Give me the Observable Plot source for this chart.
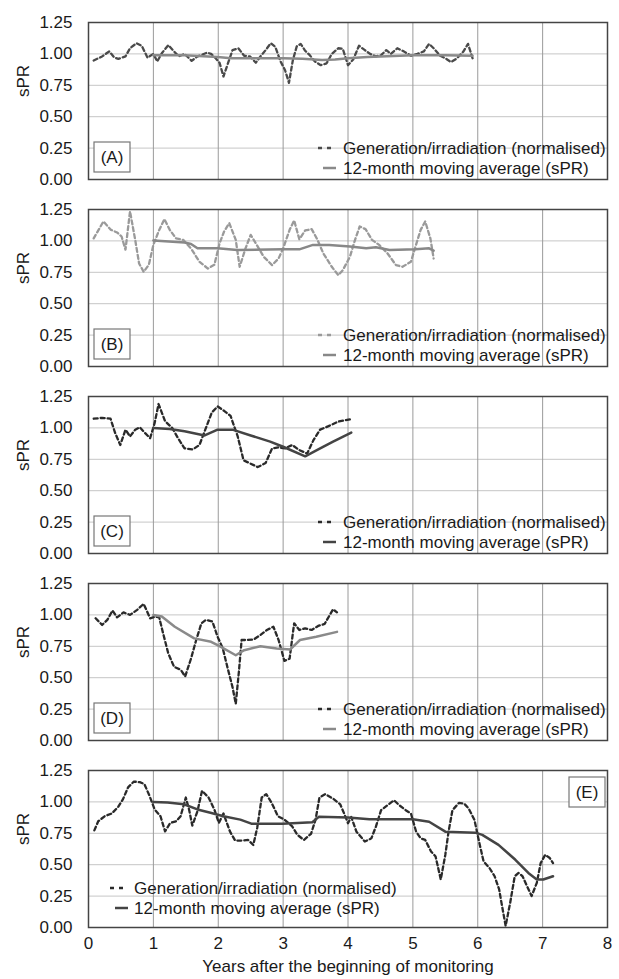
<!DOCTYPE html>
<html><head><meta charset="utf-8">
<script src="https://cdn.jsdelivr.net/npm/d3@7"></script>
<script src="https://cdn.jsdelivr.net/npm/@observablehq/plot@0.6"></script>
<style>
body{margin:0;background:#fff;}
#chart{width:619px;}
#chart svg{display:block;}
</style></head><body><div id="chart"></div>
<script>
const xTicks = [0,1,2,3,4,5,6,7,8];
const yTicks = [0,0.25,0.5,0.75,1,1.25];
const gridX = [1,2,3,4,5,6,7];
const gridY = [0.25,0.5,0.75,1];
const legendLabels = ["Generation/irradiation (normalised)","12-month moving average (sPR)"];
const panelLabels = ["(A)","(B)","(C)","(D)","(E)"];
const yTitle = "sPR";
const xTitle = "Years after the beginning of monitoring";

// Panel A
const aGenT = [0.08,0.21,0.32,0.40,0.46,0.57,0.64,0.74,0.82,0.91,1.0,1.06,1.13,1.23,1.30,1.39,1.48,1.59,1.68,1.83,1.89,1.96,2.02,2.08,2.14,2.22,2.31,2.40,2.49,2.58,2.65,2.73,2.81,2.88,2.96,3.03,3.09,3.15,3.21,3.27,3.34,3.41,3.49,3.58,3.67,3.75,3.85,3.92,4.0,4.08,4.17,4.26,4.34,4.43,4.51,4.59,4.66,4.76,4.86,4.97,5.07,5.17,5.25,5.32,5.42,5.50,5.59,5.68,5.78,5.85,5.92];
const aGenV = [0.947,0.98,1.02,0.97,0.96,0.98,1.045,1.085,1.065,0.97,1.0,0.94,1.005,1.07,1.03,0.98,1.0,0.945,0.98,1.01,1.0,0.965,0.93,0.82,0.91,1.03,1.045,0.985,0.98,0.93,0.98,1.03,1.085,1.055,0.94,0.87,0.77,0.95,1.06,1.08,1.025,0.99,0.94,0.91,0.925,1.0,1.045,1.04,0.91,0.955,1.065,1.03,1.0,0.98,0.99,1.03,1.0,1.045,1.02,0.985,1.0,1.02,1.08,1.045,0.985,0.965,0.935,0.965,1.02,1.08,0.965];
const aMaT = [1.0,1.48,1.99,2.2,3.0,3.3,3.6,3.8,4.0,4.3,5.0,5.5,5.92];
const aMaV = [0.99,0.99,0.975,0.965,0.965,0.962,0.952,0.955,0.965,0.975,0.99,0.99,0.985];

// Panel B
const bGenT = [0.08,0.23,0.34,0.44,0.51,0.57,0.64,0.72,0.78,0.85,0.93,1.0,1.08,1.17,1.25,1.35,1.46,1.58,1.71,1.84,1.94,2.02,2.09,2.17,2.27,2.33,2.42,2.5,2.58,2.7,2.83,2.93,3.0,3.1,3.17,3.25,3.34,3.44,3.53,3.62,3.75,3.85,3.92,4.03,4.1,4.18,4.27,4.37,4.48,4.61,4.74,4.84,4.97,5.04,5.12,5.19,5.27,5.32];
const bGenV = [1.02,1.155,1.09,1.067,1.035,0.93,1.235,1.008,0.82,0.754,0.81,0.968,1.075,1.174,1.09,1.02,1.008,0.94,0.834,0.78,0.81,0.98,1.075,1.142,1.008,0.794,0.94,1.048,0.98,0.874,0.807,0.86,0.94,1.088,1.163,1.013,1.083,1.094,1.008,0.90,0.794,0.727,0.767,0.874,0.995,1.115,1.094,1.008,0.968,0.90,0.807,0.794,0.834,0.955,1.088,1.155,1.02,0.86];
const bMaT = [1.0,1.48,1.58,1.68,1.99,2.29,3.0,3.25,3.46,3.71,4.03,4.28,4.43,4.64,5.04,5.25,5.32];
const bMaV = [1.003,0.987,0.976,0.941,0.941,0.928,0.933,0.933,0.968,0.968,0.955,0.941,0.949,0.928,0.933,0.941,0.922];

// Panel C
const cGenT = [0.08,0.21,0.34,0.41,0.49,0.57,0.64,0.72,0.79,0.87,0.95,1.02,1.08,1.18,1.29,1.38,1.48,1.61,1.71,1.80,1.90,1.99,2.09,2.19,2.30,2.39,2.50,2.61,2.73,2.83,2.93,3.03,3.14,3.25,3.37,3.47,3.57,3.70,3.85,3.95,4.05];
const cGenV = [1.073,1.08,1.073,0.96,0.864,0.986,0.932,0.986,1.005,0.96,0.918,1.04,1.19,1.054,1.0,0.918,0.837,0.829,0.864,0.986,1.122,1.171,1.136,1.095,0.932,0.742,0.715,0.688,0.72,0.837,0.845,0.837,0.864,0.823,0.796,0.905,0.986,1.014,1.05,1.06,1.07];
const cMaT = [1.0,1.25,1.48,1.79,1.99,2.22,2.5,2.8,3.0,3.34,3.52,3.77,4.05];
const cMaV = [1.0,0.992,0.973,0.94,0.986,0.986,0.94,0.891,0.85,0.774,0.823,0.891,0.962];

// Panel D
const dGenT = [0.11,0.21,0.29,0.37,0.44,0.54,0.64,0.75,0.85,0.95,1.03,1.09,1.15,1.23,1.32,1.42,1.49,1.58,1.66,1.74,1.81,1.91,1.99,2.07,2.14,2.22,2.27,2.32,2.36,2.45,2.55,2.65,2.75,2.85,2.93,3.02,3.1,3.17,3.25,3.34,3.44,3.54,3.64,3.72,3.77,3.83];
const dGenV = [0.973,0.92,0.96,1.035,0.98,1.02,1.0,1.04,1.088,0.973,0.987,0.98,0.853,0.693,0.586,0.564,0.51,0.652,0.80,0.933,0.96,0.947,0.826,0.733,0.586,0.425,0.291,0.559,0.80,0.80,0.805,0.84,0.88,0.906,0.80,0.634,0.652,0.933,0.88,0.893,0.88,0.912,0.928,1.0,1.045,1.02];
const dMaT = [1.0,1.13,1.33,1.63,1.89,2.02,2.27,2.4,2.65,2.9,3.11,3.26,3.51,3.83];
const dMaV = [1.0,0.987,0.906,0.813,0.786,0.751,0.679,0.719,0.751,0.733,0.725,0.80,0.826,0.865];

// Panel E
const eGenT = [0.09,0.15,0.25,0.36,0.46,0.53,0.61,0.70,0.79,0.86,0.94,1.02,1.11,1.18,1.26,1.35,1.42,1.50,1.55,1.60,1.68,1.75,1.85,1.94,2.01,2.08,2.18,2.26,2.36,2.46,2.54,2.60,2.67,2.74,2.82,2.92,3.02,3.14,3.22,3.32,3.43,3.50,3.56,3.65,3.78,3.88,3.94,4.0,4.05,4.13,4.26,4.36,4.43,4.51,4.61,4.71,4.79,4.89,4.97,5.05,5.12,5.19,5.28,5.35,5.43,5.50,5.55,5.61,5.71,5.79,5.86,5.95,6.02,6.09,6.18,6.26,6.33,6.37,6.43,6.50,6.57,6.63,6.69,6.76,6.83,6.91,6.97,7.04,7.11,7.16];
const eGenV = [0.773,0.846,0.886,0.908,0.962,1.02,1.116,1.162,1.157,1.143,1.049,0.94,0.886,0.765,0.832,0.846,0.886,1.035,0.94,0.811,0.927,1.089,1.035,0.94,0.832,0.908,0.765,0.692,0.692,0.697,0.657,0.792,1.035,1.062,0.995,0.886,0.859,0.805,0.738,0.697,0.746,0.859,1.035,1.062,1.022,0.981,0.908,0.83,0.88,0.763,0.684,0.71,0.803,0.934,0.974,1.013,0.974,0.934,0.908,0.763,0.71,0.697,0.605,0.566,0.382,0.579,0.763,0.934,0.992,0.987,0.947,0.855,0.684,0.526,0.474,0.408,0.303,0.184,0.013,0.197,0.408,0.434,0.408,0.329,0.25,0.355,0.513,0.579,0.553,0.513];
const eMaT = [1.0,1.22,1.47,1.68,1.88,2.08,2.34,2.51,2.99,3.45,3.55,4.0,4.33,5.0,5.25,5.5,5.96,6.07,6.32,6.58,6.78,6.91,7.01,7.16];
const eMaV = [1.0,0.995,0.981,0.94,0.914,0.886,0.859,0.827,0.827,0.838,0.881,0.876,0.861,0.861,0.842,0.763,0.755,0.737,0.658,0.539,0.434,0.382,0.382,0.408];

const rows = (ts, vs) => ts.map((t, i) => ({t, v: vs[i]}));

const panels = [
  {gen: rows(aGenT, aGenV), ma: rows(aMaT, aMaV), genColor: "#4a4a4a", maColor: "#8a8a8a", legend: "right", label: "bottom"},
  {gen: rows(bGenT, bGenV), ma: rows(bMaT, bMaV), genColor: "#9a9a9a", maColor: "#888888", legend: "right", label: "bottom"},
  {gen: rows(cGenT, cGenV), ma: rows(cMaT, cMaV), genColor: "#2a2a2a", maColor: "#444444", legend: "right", label: "bottom"},
  {gen: rows(dGenT, dGenV), ma: rows(dMaT, dMaV), genColor: "#2a2a2a", maColor: "#8a8a8a", legend: "right", label: "bottom"},
  {gen: rows(eGenT, eGenV), ma: rows(eMaT, eMaV), genColor: "#2a2a2a", maColor: "#444444", legend: "left", label: "top"}
];

const W = 619, ML = 88, MR = 12, MT = 22, FH = 157;
const font = "'Liberation Sans', Arial, Helvetica, sans-serif";
const chart = document.getElementById("chart");

panels.forEach((p, i) => {
  const last = i === panels.length - 1;
  const MB = last ? 52 : 8;
  const svg = Plot.plot({
    width: W,
    height: MT + FH + MB,
    marginLeft: ML, marginRight: MR, marginTop: MT, marginBottom: MB,
    style: {fontFamily: font, fontSize: "17px", color: "#1a1a1a", background: "#fff", overflow: "visible"},
    x: {domain: [0, 8], ticks: xTicks, tickSize: 0, tickPadding: 9, label: null, axis: last ? "bottom" : null},
    y: {domain: [0, 1.25], ticks: yTicks, tickFormat: d3.format(".2f"), tickSize: 0, tickPadding: 16, label: null},
    marks: [
      Plot.ruleY(gridY, {stroke: "#c6c6c6", strokeWidth: 1}),
      Plot.ruleX(gridX, {stroke: "#9a9a9a", strokeWidth: 1}),
      Plot.frame({stroke: "#444", strokeWidth: 1.5}),
      Plot.line(p.gen, {x: "t", y: "v", stroke: p.genColor, strokeWidth: 2.3, strokeDasharray: "4,3"}),
      Plot.line(p.ma, {x: "t", y: "v", stroke: p.maColor, strokeWidth: 2.5}),
      Plot.text([yTitle], {text: d => d, frameAnchor: "left", rotate: -90, dx: -65, dy: -4, fontSize: 17, fill: "#1a1a1a"}),
      ...(last ? [Plot.text([xTitle], {text: d => d, frameAnchor: "bottom", dy: 44, fontSize: 17, fill: "#1a1a1a"})] : [])
    ]
  });
  const s = d3.select(svg);
  const left = ML, right = W - MR, top = MT, bottom = MT + FH;
  const g = s.append("g").attr("font-family", font).attr("font-size", 17)
    .attr("fill", "#1a1a1a").attr("text-anchor", "start");
  // legend
  let sx0, tx, r1, r2;
  if (p.legend === "right") { sx0 = 318; tx = 343; r1 = bottom - 31; r2 = bottom - 11; }
  else { sx0 = 110; tx = 134; r1 = bottom - 39; r2 = bottom - 19; }
  g.append("line").attr("x1", sx0).attr("x2", sx0 + 18).attr("y1", r1).attr("y2", r1)
    .attr("stroke", p.genColor).attr("stroke-width", 2.3).attr("stroke-dasharray", "4,5");
  g.append("line").attr("x1", sx0 + 5).attr("x2", sx0 + 18).attr("y1", r2).attr("y2", r2)
    .attr("stroke", p.maColor).attr("stroke-width", 2.5);
  g.append("text").attr("x", tx).attr("y", r1).attr("dy", "0.35em").text(legendLabels[0]);
  g.append("text").attr("x", tx).attr("y", r2).attr("dy", "0.35em").text(legendLabels[1]);
  // panel label box
  let bx, by;
  if (p.label === "bottom") { bx = left + 6; by = bottom - 37; }
  else { bx = right - 38; by = top + 7; }
  g.append("rect").attr("x", bx).attr("y", by).attr("width", 36).attr("height", 30)
    .attr("fill", "#fff").attr("stroke", "#777").attr("stroke-width", 1.2);
  g.append("text").attr("x", bx + 18).attr("y", by + 15).attr("dy", "0.35em")
    .attr("text-anchor", "middle").text(panelLabels[i]);
  chart.appendChild(svg);
});
</script>
</body></html>
